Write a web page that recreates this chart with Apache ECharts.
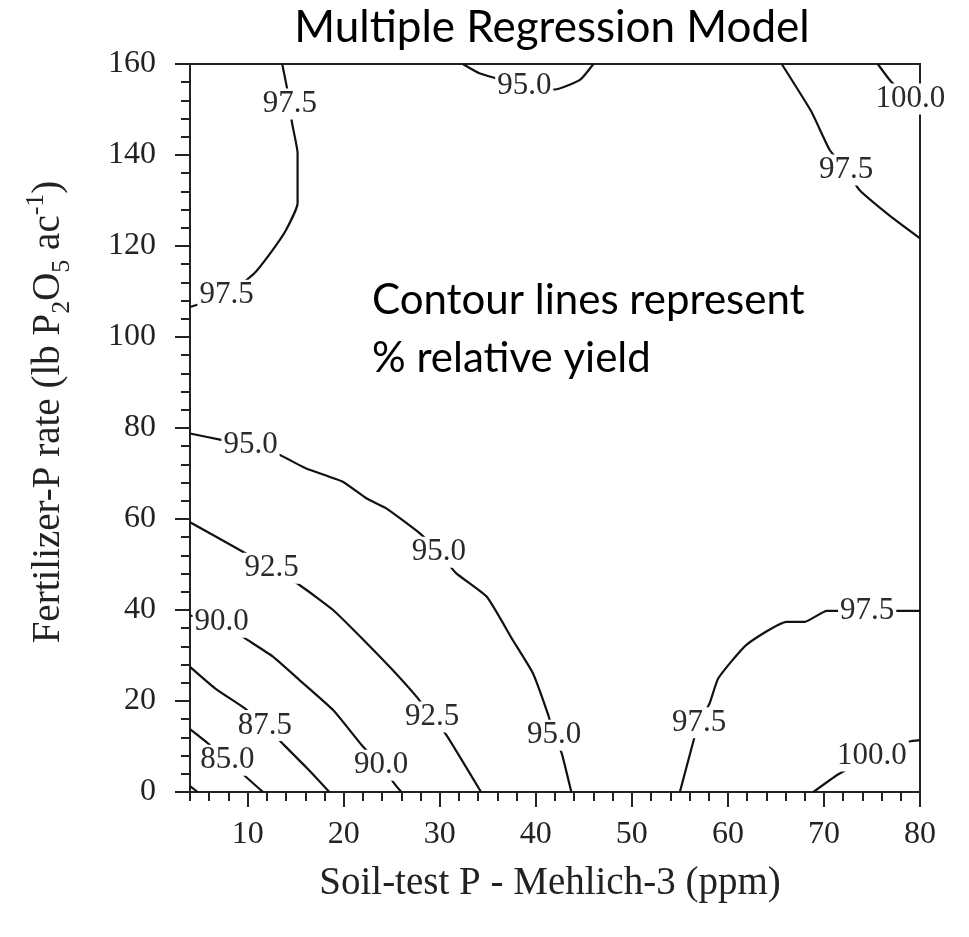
<!DOCTYPE html>
<html>
<head>
<meta charset="utf-8">
<title>Multiple Regression Model</title>
<script src="https://cdn.jsdelivr.net/npm/echarts@6/dist/echarts.min.js"></script>
<style>
  html, body { margin: 0; padding: 0; background: #fff; }
  #chart { width: 969px; height: 937px; }
</style>
</head>
<body>
<div id="chart"></div>
<script>
// Relative-yield contours: each path is [soil-test P (ppm), fertilizer-P rate (lb P2O5/ac)]
const yield825 = [[4, 1.3], [4.8, 0]];
const yield85 = [[4, 13.8], [5.8, 10.8], [7.9, 7.0], [10.1, 2.8], [11.6, 0]];
const yield875 = [[4, 27.5], [6.6, 22.8], [9.7, 18.4], [11.8, 14.6], [13.8, 10.3], [16.2, 5.2], [18.5, 0]];
const yield90 = [[4, 38.8], [7.3, 37.3], [9.7, 33.8], [12.6, 29.8], [15.4, 24.6], [18.9, 18.0], [22.0, 10.0], [23.9, 5.9], [25.3, 1.8], [26.0, 0]];
const yield925 = [[4, 59.3], [9.5, 52.8], [12.5, 49.2], [15.4, 45.5], [18.9, 40.0], [22.4, 32.7], [25.1, 26.8], [27.6, 20.9], [29.2, 16.5], [30.7, 12.5], [34.3, 0]];
const yield95Low = [[4, 78.8], [7.25, 77.4], [10.3, 76.3], [13.3, 74.1], [16.1, 71.1], [19.9, 68.2], [22.4, 64.5], [24.4, 62.4], [27.9, 56.9], [29.9, 52.7], [31.7, 48.1], [34.9, 42.9], [37.6, 33.4], [39.7, 26.1], [41.3, 16.9], [41.9, 12.5], [42.7, 8.5], [43.7, 0]];
const yield975Low = [[55.0, 0], [56.4, 11.1], [57.0, 15.2], [58.1, 19.5], [59.0, 25.0], [61.9, 32.3], [66.1, 37.4], [68.0, 37.4], [70.3, 39.8], [74.5, 39.8], [80, 39.8]];
const yield100Low = [[68.9, 0], [71.5, 3.9], [75.0, 7.9], [78.9, 11.1], [80, 11.4]];
const yield975Left = [[13.6, 160], [14.0, 155.8], [14.4, 151.2], [14.6, 147.3], [15.2, 140.4], [15.2, 129.4], [14.0, 123.5], [12.6, 119.1], [10.7, 114.0], [7.8, 109.2], [4, 106.6]];
const yield95Top = [[32.4, 160], [34.2, 157.9], [38.8, 155.2], [42.0, 154.4], [44.6, 156.5], [46.0, 160]];
const yield975Right = [[65.6, 160], [68.7, 149.5], [70.6, 141.1], [72.3, 136.7], [73.7, 132.3], [77.0, 126.4], [80, 121.7]];
const yield100Top = [[75.6, 160], [77.0, 156.1], [79.0, 152.3], [80, 150.5]];

// Contour level of each path and the path vertices that carry its inline label
const contourLevels = [82.5, 85, 87.5, 90, 92.5, 95, 97.5, 100, 97.5, 95, 97.5, 100];
const contourPaths = [yield825, yield85, yield875, yield90, yield925, yield95Low, yield975Low, yield100Low, yield975Left, yield95Top, yield975Right, yield100Top];
const labelVertices = [[], [2], [3], [1, 7], [2, 8], [2, 9, 15], [2, 9], [2], [2, 9], [2], [3], [2]];

// Axis ticks
const xLabelTicks = [10, 20, 30, 40, 50, 60, 70, 80];
const xMinorTicks = [4, 6, 8, 12, 14, 16, 18, 22, 24, 26, 28, 32, 34, 36, 38, 42, 44, 46, 48, 52, 54, 56, 58, 62, 64, 66, 68, 72, 74, 76, 78];

const SERIF = '"Liberation Serif", "DejaVu Serif", serif';
const SANS = 'Lato, "Open Sans", "Noto Sans", sans-serif';
const INK = '#222';

const chart = echarts.init(document.getElementById('chart'), null, { renderer: 'canvas' });

const lineSeries = contourPaths.map((path, i) => ({
  type: 'line',
  name: contourLevels[i].toFixed(1),
  data: path,
  showSymbol: false,
  symbol: 'none',
  smooth: 0.15,
  clip: true,
  silent: true,
  z: 3,
  lineStyle: { color: '#111', width: 2.2 }
}));

const labelData = [];
contourPaths.forEach((path, i) => {
  labelVertices[i].forEach(k => {
    labelData.push([path[k][0], path[k][1], contourLevels[i].toFixed(1)]);
  });
});

// Inline contour labels on a white box that interrupts the line beneath
const labelSeries = {
  type: 'scatter',
  data: labelData,
  symbolSize: 1,
  itemStyle: { color: '#fff', opacity: 1 },
  silent: true,
  z: 10,
  label: {
    show: true,
    position: 'inside',
    formatter: p => p.value[2],
    fontFamily: SERIF,
    fontSize: 31,
    color: '#2a2a2a',
    opacity: 1,
    backgroundColor: '#fff',
    padding: [0, 2]
  }
};

chart.setOption({
  animation: false,
  backgroundColor: '#fff',
  grid: {
    left: 190, top: 64, width: 730, height: 728,
    show: true, borderColor: INK, borderWidth: 2, backgroundColor: 'transparent'
  },
  graphic: [
    {
      type: 'text', x: 552, y: 6,
      style: { text: 'Multiple Regression Model', font: '44px ' + SANS, fill: '#000', textAlign: 'center' }
    },
    {
      type: 'text', x: 372, y: 271,
      style: { text: 'Contour lines represent\n% relative yield', font: '42px ' + SANS, fill: '#000', lineHeight: 58 }
    }
  ],
  xAxis: [
    {
      type: 'value', min: 4, max: 80, position: 'bottom',
      name: 'Soil-test P - Mehlich-3 (ppm)', nameLocation: 'middle', nameGap: 72,
      nameTextStyle: { fontFamily: SERIF, fontSize: 39, color: INK, padding: [0, 10, 0, 0] },
      axisLine: { show: true, lineStyle: { color: INK, width: 2 } },
      axisTick: { show: true, customValues: xLabelTicks, length: 15, lineStyle: { color: INK, width: 2 } },
      axisLabel: { customValues: xLabelTicks, margin: 27, fontFamily: SERIF, fontSize: 32, color: INK },
      splitLine: { show: false }
    },
    {
      type: 'value', min: 4, max: 80, position: 'bottom',
      axisLine: { show: false },
      axisTick: { show: true, customValues: xMinorTicks, length: 9, lineStyle: { color: INK, width: 2 } },
      axisLabel: { show: false },
      splitLine: { show: false }
    }
  ],
  yAxis: {
    type: 'value', min: 0, max: 160, interval: 20,
    name: 'Fertilizer-P rate (lb P{s|2}O{s|5} ac{p|-1})',
    nameLocation: 'middle', nameRotate: 90, nameGap: 115,
    nameTextStyle: {
      fontFamily: SERIF, fontSize: 39, color: INK, lineHeight: 52, padding: [0, 0, 0, 32],
      rich: {
        s: { fontFamily: SERIF, fontSize: 26, color: INK, lineHeight: 22, verticalAlign: 'bottom' },
        p: { fontFamily: SERIF, fontSize: 26, color: INK, lineHeight: 22, verticalAlign: 'top' }
      }
    },
    axisLine: { show: true, lineStyle: { color: INK, width: 2 } },
    axisTick: { show: true, length: 15, lineStyle: { color: INK, width: 2 } },
    minorTick: { show: true, splitNumber: 5, length: 9, lineStyle: { color: INK, width: 2 } },
    axisLabel: { margin: 34, fontFamily: SERIF, fontSize: 32, color: INK },
    splitLine: { show: false },
    minorSplitLine: { show: false }
  },
  series: [...lineSeries, labelSeries]
});
</script>
</body>
</html>
